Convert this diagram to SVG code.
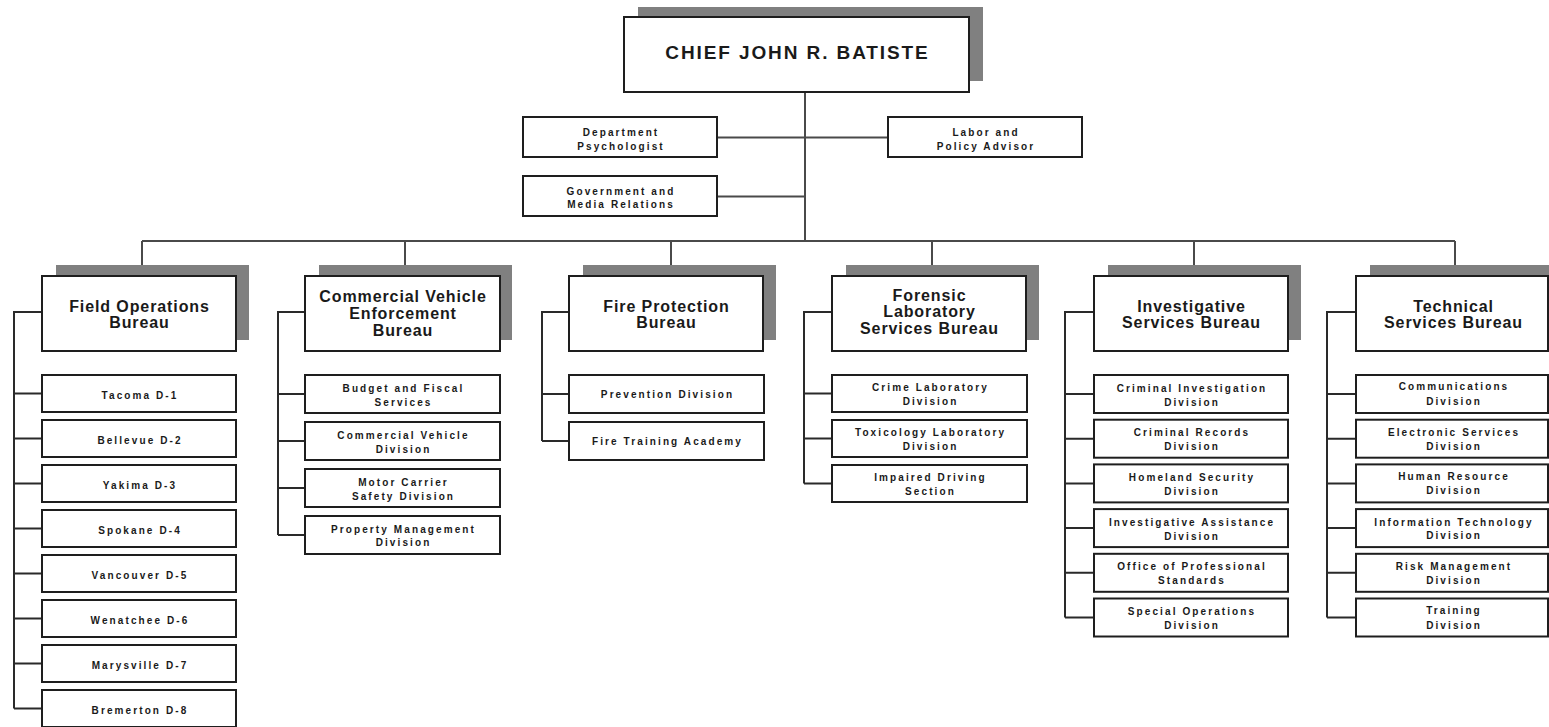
<svg xmlns="http://www.w3.org/2000/svg" width="1549" height="727" viewBox="0 0 1549 727">
<style>
.bg{fill:#ffffff}
.box{fill:#ffffff;stroke:#1e1e1e;stroke-width:2}
.shadow{fill:#808080;stroke:none}
.conn{fill:none;stroke:#4a4a4a;stroke-width:2}
.br{fill:none;stroke:#2a2a2a;stroke-width:2}
text{font-family:"Liberation Sans",Arial,sans-serif;font-weight:bold;fill:#1a1a1a;text-anchor:middle}
.chief{font-size:19px;letter-spacing:1.9px}
.bur{font-size:16px;letter-spacing:0.9px}
.sm{font-size:10px;letter-spacing:2.1px}
</style>
<rect class="bg" x="0" y="0" width="1549" height="727"/>

<g id="connectors">
  <path class="conn" d="M805 92V241M717 137.5H888M717 196.5H805M142 241H1455"/>
  <path class="conn" d="M142 241V270M405 241V270M671 241V270M932 241V270M1194 241V270M1455 241V270"/>
  <!-- Field brackets -->
  <path class="br" d="M42 312H14V708.5M14 393.5H42M14 438.5H42M14 483.5H42M14 528.5H42M14 573.5H42M14 618.5H42M14 663.5H42M14 708.5H42"/>
  <!-- CV brackets -->
  <path class="br" d="M305 312H278V535M278 394H305M278 441H305M278 488H305M278 535H305"/>
  <!-- Fire brackets -->
  <path class="br" d="M569 312H542V441M542 394H569M542 441H569"/>
  <!-- Forensic brackets -->
  <path class="br" d="M832 312H804V483.5M804 393.5H832M804 438.5H832M804 483.5H832"/>
  <!-- Investigative brackets -->
  <path class="br" d="M1094 312H1065V617.5M1065 394H1094M1065 438.7H1094M1065 483.4H1094M1065 528.1H1094M1065 572.8H1094M1065 617.5H1094"/>
  <!-- Technical brackets -->
  <path class="br" d="M1356 312H1327V617.5M1327 394H1356M1327 438.7H1356M1327 483.4H1356M1327 528.1H1356M1327 572.8H1356M1327 617.5H1356"/>
</g>

<g id="chief">
  <rect class="shadow" x="638" y="7" width="345" height="74"/>
  <rect class="box" x="624" y="17" width="345" height="75"/>
  <text class="chief" x="797.5" y="59">CHIEF JOHN R. BATISTE</text>
</g>

<g id="dept-psychologist">
  <rect class="box" x="523" y="117" width="194" height="40"/>
  <text class="sm" x="621"><tspan x="621" y="135.5">Department</tspan><tspan x="621" y="149.5">Psychologist</tspan></text>
</g>
<g id="labor-policy">
  <rect class="box" x="888" y="117" width="194" height="40"/>
  <text class="sm" x="986"><tspan x="986" y="135.5">Labor and</tspan><tspan x="986" y="149.5">Policy Advisor</tspan></text>
</g>
<g id="gov-media">
  <rect class="box" x="523" y="176" width="194" height="40"/>
  <text class="sm" x="621"><tspan x="621" y="194.5">Government and</tspan><tspan x="621" y="208">Media Relations</tspan></text>
</g>

<!-- Field Operations -->
<g id="field-operations">
  <rect class="shadow" x="56" y="265" width="193" height="75"/>
  <rect class="box" x="42" y="276" width="194" height="75"/>
  <text class="bur" x="139.5"><tspan x="139.5" y="312">Field Operations</tspan><tspan x="139.5" y="328">Bureau</tspan></text>
</g>
<g id="tacoma"><rect class="box" x="42" y="375" width="194" height="37"/><text class="sm" x="140" y="398.5">Tacoma D-1</text></g>
<g id="bellevue"><rect class="box" x="42" y="420" width="194" height="37"/><text class="sm" x="140" y="443.5">Bellevue D-2</text></g>
<g id="yakima"><rect class="box" x="42" y="465" width="194" height="37"/><text class="sm" x="140" y="488.5">Yakima D-3</text></g>
<g id="spokane"><rect class="box" x="42" y="510" width="194" height="37"/><text class="sm" x="140" y="533.5">Spokane D-4</text></g>
<g id="vancouver"><rect class="box" x="42" y="555" width="194" height="37"/><text class="sm" x="140" y="578.5">Vancouver D-5</text></g>
<g id="wenatchee"><rect class="box" x="42" y="600" width="194" height="37"/><text class="sm" x="140" y="623.5">Wenatchee D-6</text></g>
<g id="marysville"><rect class="box" x="42" y="645" width="194" height="37"/><text class="sm" x="140" y="668.5">Marysville D-7</text></g>
<g id="bremerton"><rect class="box" x="42" y="690" width="194" height="37"/><text class="sm" x="140" y="713.5">Bremerton D-8</text></g>

<!-- Commercial Vehicle Enforcement -->
<g id="cve-bureau">
  <rect class="shadow" x="319" y="265" width="193" height="75"/>
  <rect class="box" x="305" y="276" width="195" height="75"/>
  <text class="bur" x="403"><tspan x="403" y="302">Commercial Vehicle</tspan><tspan x="403" y="318.5">Enforcement</tspan><tspan x="403" y="335.5">Bureau</tspan></text>
</g>
<g id="budget"><rect class="box" x="305" y="375" width="195" height="38"/><text class="sm" x="403.5"><tspan x="403.5" y="392">Budget and Fiscal</tspan><tspan x="403.5" y="405.5">Services</tspan></text></g>
<g id="cv-division"><rect class="box" x="305" y="422" width="195" height="38"/><text class="sm" x="403.5"><tspan x="403.5" y="439">Commercial Vehicle</tspan><tspan x="403.5" y="453">Division</tspan></text></g>
<g id="motor-carrier"><rect class="box" x="305" y="469" width="195" height="38"/><text class="sm" x="403.5"><tspan x="403.5" y="485.5">Motor Carrier</tspan><tspan x="403.5" y="500">Safety Division</tspan></text></g>
<g id="property"><rect class="box" x="305" y="516" width="195" height="38"/><text class="sm" x="403.5"><tspan x="403.5" y="533">Property Management</tspan><tspan x="403.5" y="546">Division</tspan></text></g>

<!-- Fire Protection -->
<g id="fire-bureau">
  <rect class="shadow" x="583" y="265" width="193" height="75"/>
  <rect class="box" x="569" y="276" width="194" height="75"/>
  <text class="bur" x="666.5"><tspan x="666.5" y="312">Fire Protection</tspan><tspan x="666.5" y="328">Bureau</tspan></text>
</g>
<g id="prevention"><rect class="box" x="569" y="375" width="195" height="38"/><text class="sm" x="667.5" y="397.5">Prevention Division</text></g>
<g id="fire-training"><rect class="box" x="569" y="422" width="195" height="38"/><text class="sm" x="667.5" y="445">Fire Training Academy</text></g>

<!-- Forensic -->
<g id="forensic-bureau">
  <rect class="shadow" x="846" y="265" width="193" height="75"/>
  <rect class="box" x="832" y="276" width="194" height="75"/>
  <text class="bur" x="929.5"><tspan x="929.5" y="300.5">Forensic</tspan><tspan x="929.5" y="316.5">Laboratory</tspan><tspan x="929.5" y="334">Services Bureau</tspan></text>
</g>
<g id="crime-lab"><rect class="box" x="832" y="375" width="195" height="37"/><text class="sm" x="930.5"><tspan x="930.5" y="391">Crime Laboratory</tspan><tspan x="930.5" y="404.5">Division</tspan></text></g>
<g id="toxicology"><rect class="box" x="832" y="420" width="195" height="37"/><text class="sm" x="930.5"><tspan x="930.5" y="436">Toxicology Laboratory</tspan><tspan x="930.5" y="449.5">Division</tspan></text></g>
<g id="impaired"><rect class="box" x="832" y="465" width="195" height="37"/><text class="sm" x="930.5"><tspan x="930.5" y="481">Impaired Driving</tspan><tspan x="930.5" y="494.5">Section</tspan></text></g>

<!-- Investigative -->
<g id="investigative-bureau">
  <rect class="shadow" x="1108" y="265" width="193" height="75"/>
  <rect class="box" x="1094" y="276" width="194" height="75"/>
  <text class="bur" x="1191.5"><tspan x="1191.5" y="311.5">Investigative</tspan><tspan x="1191.5" y="327.5">Services Bureau</tspan></text>
</g>
<g id="criminal-investigation"><rect class="box" x="1094" y="375" width="194" height="38"/><text class="sm" x="1192"><tspan x="1192" y="391.5">Criminal Investigation</tspan><tspan x="1192" y="405.5">Division</tspan></text></g>
<g id="criminal-records"><rect class="box" x="1094" y="419.7" width="194" height="38"/><text class="sm" x="1192"><tspan x="1192" y="436.2">Criminal Records</tspan><tspan x="1192" y="450.2">Division</tspan></text></g>
<g id="homeland"><rect class="box" x="1094" y="464.4" width="194" height="38"/><text class="sm" x="1192"><tspan x="1192" y="480.9">Homeland Security</tspan><tspan x="1192" y="494.9">Division</tspan></text></g>
<g id="inv-assistance"><rect class="box" x="1094" y="509.1" width="194" height="38"/><text class="sm" x="1192"><tspan x="1192" y="525.6">Investigative Assistance</tspan><tspan x="1192" y="539.6">Division</tspan></text></g>
<g id="ops"><rect class="box" x="1094" y="553.8" width="194" height="38"/><text class="sm" x="1192"><tspan x="1192" y="570.3">Office of Professional</tspan><tspan x="1192" y="584.3">Standards</tspan></text></g>
<g id="special-ops"><rect class="box" x="1094" y="598.5" width="194" height="38"/><text class="sm" x="1192"><tspan x="1192" y="615">Special Operations</tspan><tspan x="1192" y="629">Division</tspan></text></g>

<!-- Technical -->
<g id="technical-bureau">
  <rect class="shadow" x="1370" y="265" width="193" height="75"/>
  <rect class="box" x="1356" y="276" width="192" height="75"/>
  <text class="bur" x="1453.5"><tspan x="1453.5" y="311.5">Technical</tspan><tspan x="1453.5" y="327.5">Services Bureau</tspan></text>
</g>
<g id="communications"><rect class="box" x="1356" y="375" width="192" height="38"/><text class="sm" x="1454"><tspan x="1454" y="390">Communications</tspan><tspan x="1454" y="404.5">Division</tspan></text></g>
<g id="electronic"><rect class="box" x="1356" y="419.7" width="192" height="38"/><text class="sm" x="1454"><tspan x="1454" y="436">Electronic Services</tspan><tspan x="1454" y="450">Division</tspan></text></g>
<g id="human-resource"><rect class="box" x="1356" y="464.4" width="192" height="38"/><text class="sm" x="1454"><tspan x="1454" y="479.5">Human Resource</tspan><tspan x="1454" y="494">Division</tspan></text></g>
<g id="info-tech"><rect class="box" x="1356" y="509.1" width="192" height="38"/><text class="sm" x="1454"><tspan x="1454" y="525.5">Information Technology</tspan><tspan x="1454" y="539">Division</tspan></text></g>
<g id="risk"><rect class="box" x="1356" y="553.8" width="192" height="38"/><text class="sm" x="1454"><tspan x="1454" y="570">Risk Management</tspan><tspan x="1454" y="584">Division</tspan></text></g>
<g id="training"><rect class="box" x="1356" y="598.5" width="192" height="38"/><text class="sm" x="1454"><tspan x="1454" y="614">Training</tspan><tspan x="1454" y="628.5">Division</tspan></text></g>
</svg>
